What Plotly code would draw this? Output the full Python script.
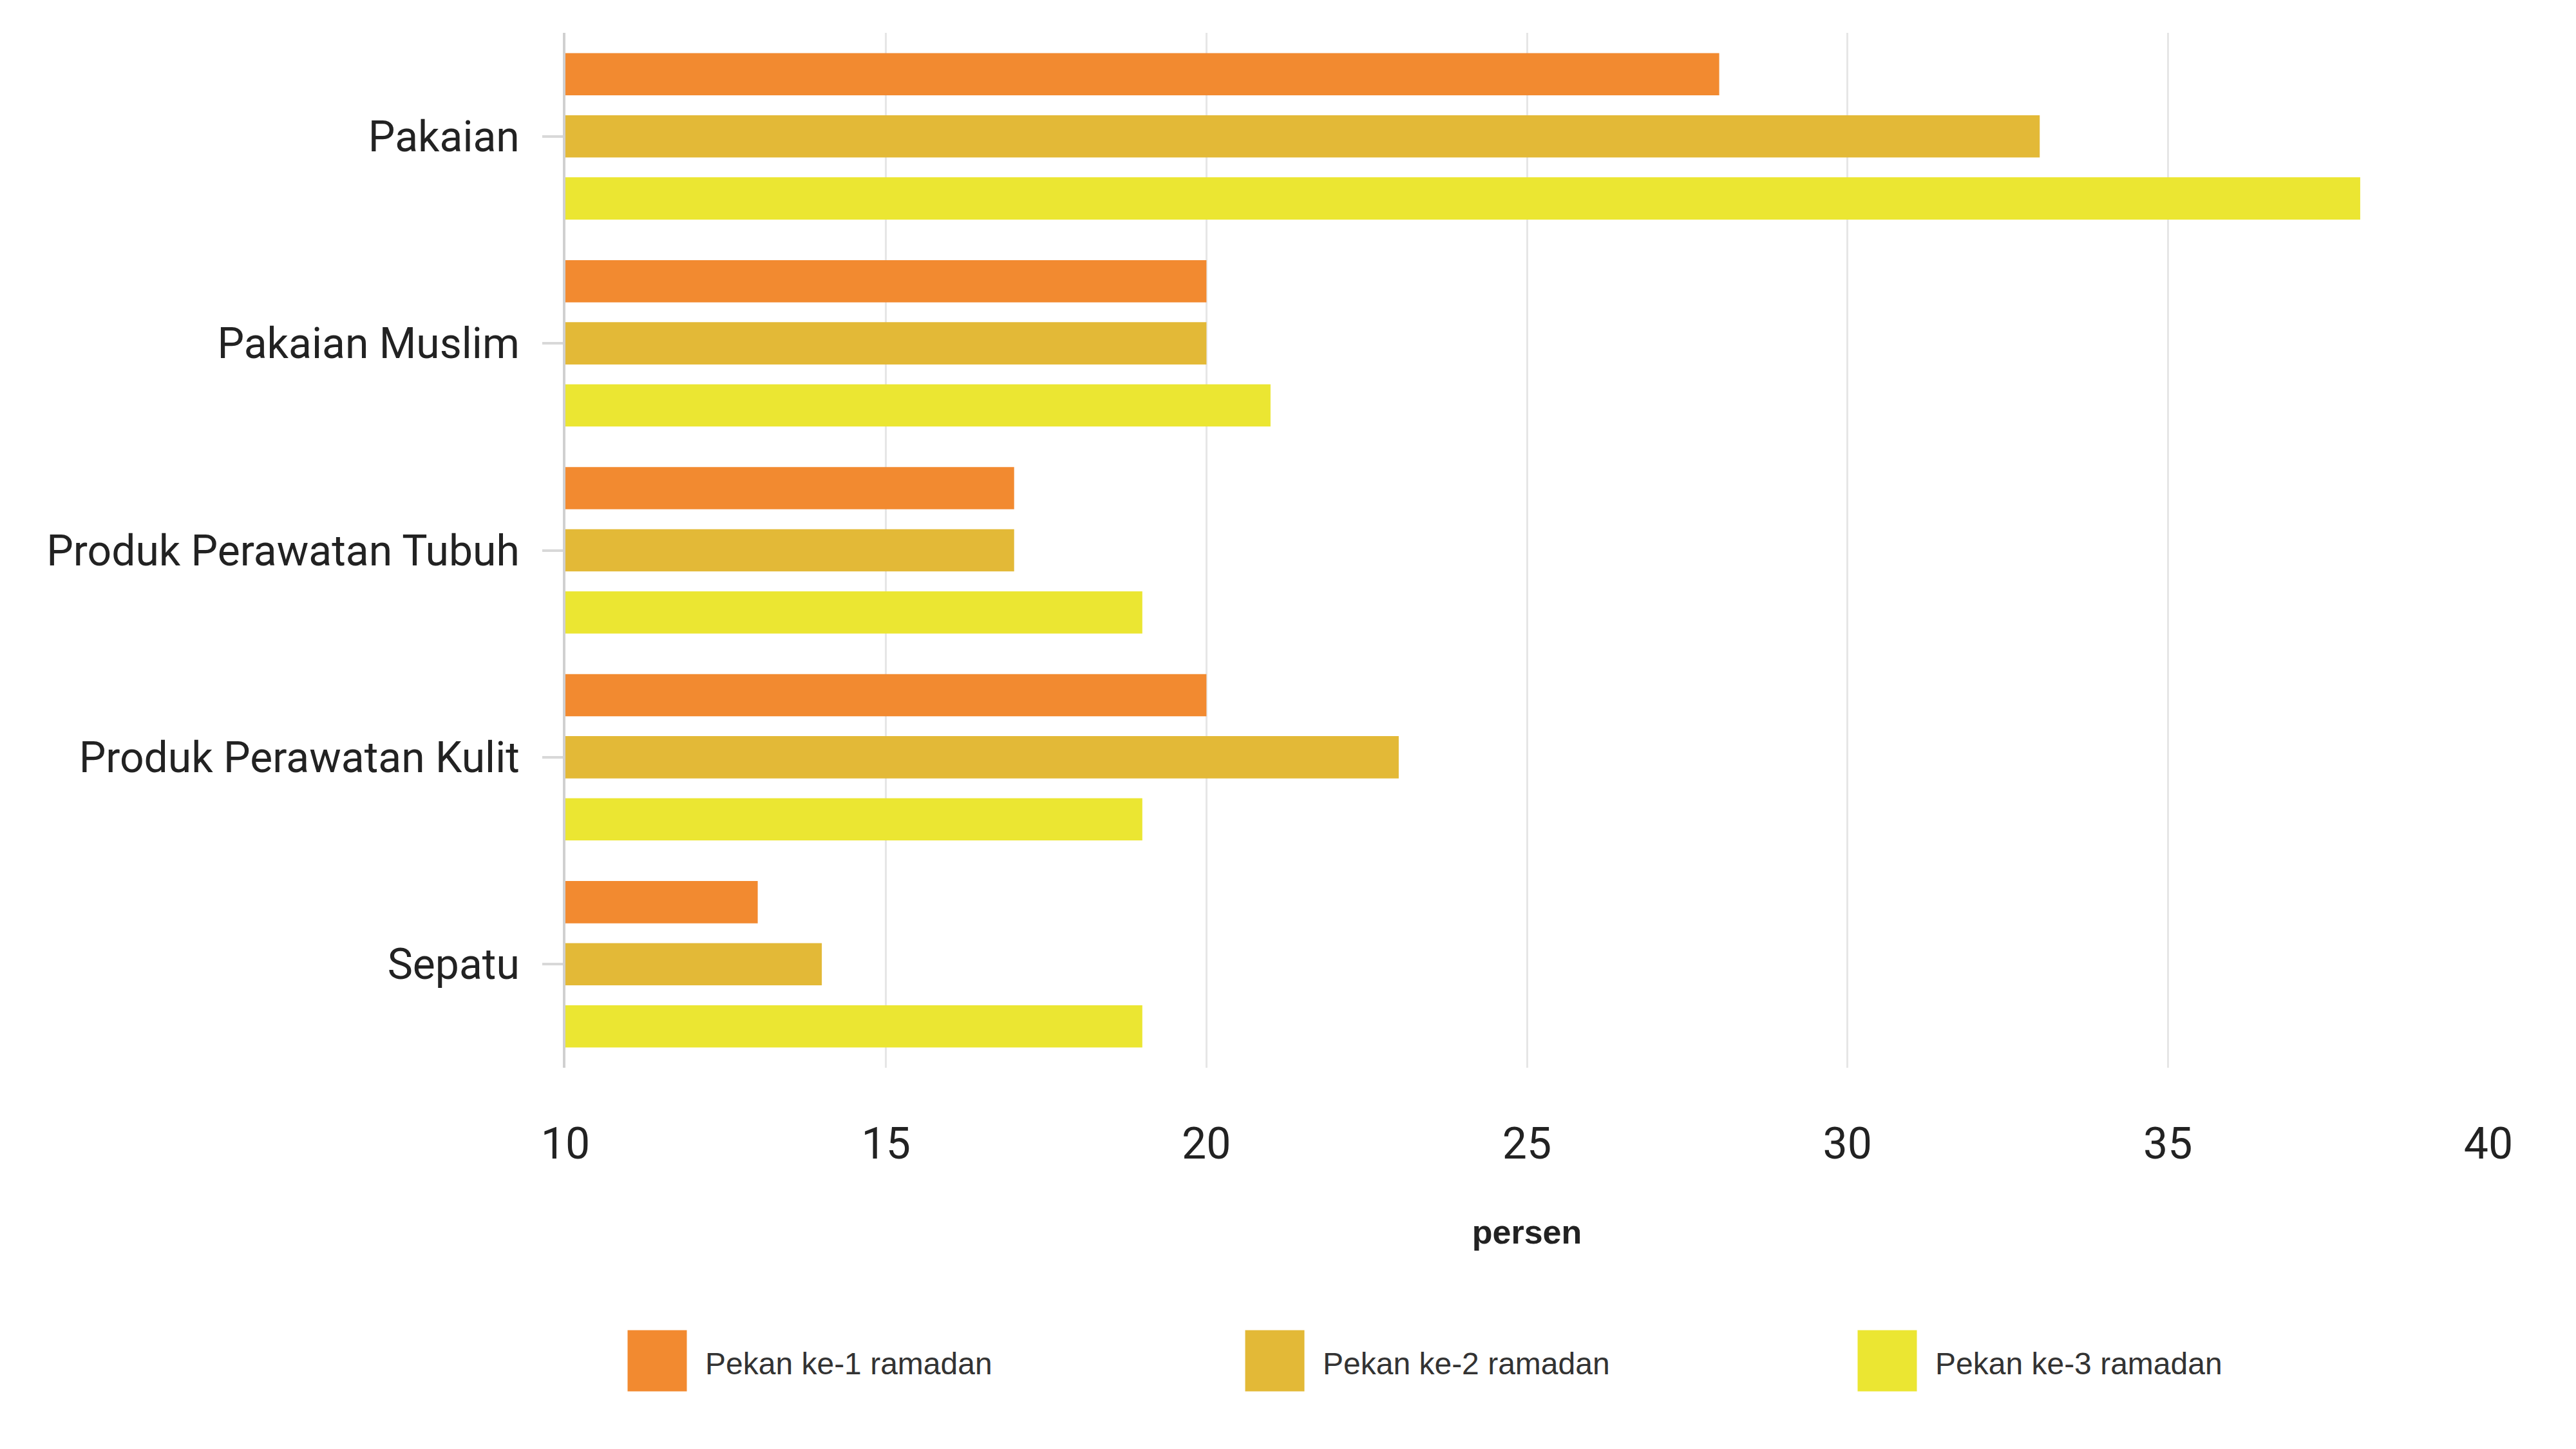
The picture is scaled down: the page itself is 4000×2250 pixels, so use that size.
import plotly.graph_objects as go

categories = ["Pakaian", "Pakaian Muslim", "Produk Perawatan Tubuh", "Produk Perawatan Kulit", "Sepatu"]
series_names = ["Pekan ke-1 ramadan", "Pekan ke-2 ramadan", "Pekan ke-3 ramadan"]
week1 = [28, 20, 17, 20, 13]
week2 = [33, 20, 17, 23, 14]
week3 = [38, 21, 19, 19, 19]
colors = ["#F28A30", "#E3B937", "#EBE632"]
x_ticks = [10, 15, 20, 25, 30, 35, 40]

W, H = 4000, 2250
L, R, T, B = 870, 144, 43, 600
pw, ph = W - L - R, H - T - B

def px_x(px):
    return (px - L) / pw

def px_y(py):
    return (H - B - py) / ph

fig = go.Figure()
for name, vals, col in zip(series_names, [week1, week2, week3], colors):
    fig.add_trace(go.Bar(
        y=categories, x=vals, name=name, orientation="h",
        marker=dict(color=col, line=dict(width=0)),
        showlegend=False,
    ))

# manual legend (large swatches)
leg_sq_left = [968, 1927, 2878]
for name, col, x0 in zip(series_names, colors, leg_sq_left):
    fig.add_shape(type="rect", xref="paper", yref="paper",
                  x0=px_x(x0), x1=px_x(x0 + 89), y0=px_y(2151), y1=px_y(2059),
                  fillcolor=col, line=dict(color=col, width=3))
    fig.add_annotation(xref="paper", yref="paper", x=px_x(x0 + 117), y=px_y(2109),
                       text=name, showarrow=False, xanchor="left", yanchor="middle",
                       font=dict(family="Liberation Sans, Arial", size=48, color="#333333"))

fig.update_layout(
    width=W, height=H,
    margin=dict(l=L, r=R, t=T, b=B),
    paper_bgcolor="white", plot_bgcolor="white",
    barmode="group", bargap=0.1, bargroupgap=0.32,
    font=dict(family="Roboto", color="#222222"),
    xaxis=dict(
        range=[10, 40], tickvals=x_ticks, ticktext=[str(v) for v in x_ticks],
        showgrid=True, gridcolor="#E6E6E6", gridwidth=3,
        zeroline=False, showline=False, ticks="",
        tickfont=dict(family="Roboto", size=68, color="#222222"),
        ticklabelstandoff=72,
        title=dict(text="<b>persen</b>", font=dict(family="Liberation Sans, Arial", size=52, color="#222222"), standoff=79),
    ),
    yaxis=dict(
        autorange="reversed", showgrid=False,
        showline=True, linecolor="#D0D0D0", linewidth=4,
        ticks="outside", ticklen=32, tickcolor="#D8D8D8", tickwidth=4,
        tickfont=dict(family="Roboto", size=66, color="#222222"),
        ticklabelstandoff=22,
    ),
)

fig.write_html("out.html")
